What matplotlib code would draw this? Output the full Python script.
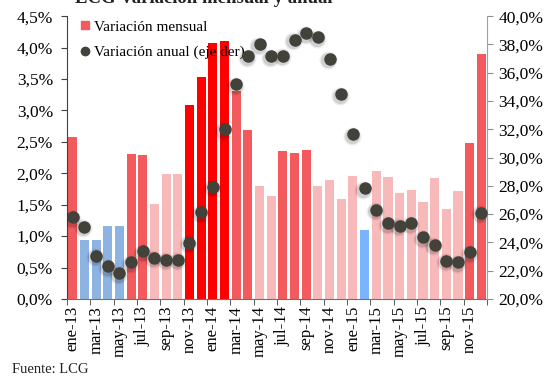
import matplotlib
matplotlib.use("Agg")
import matplotlib.pyplot as plt
from matplotlib.lines import Line2D
from matplotlib.ticker import FuncFormatter
import numpy as np

meses = ["ene", "feb", "mar", "abr", "may", "jun",
         "jul", "ago", "sep", "oct", "nov", "dic"]
etiquetas = [f"{m}-{a}" for a in ("13", "14", "15") for m in meses]

# variacion mensual (%), eje izquierdo
mensual = [2.57, 0.93, 0.94, 1.16, 1.16, 2.31, 2.29, 1.51, 1.99, 1.99, 3.08, 3.53,
           4.07, 4.10, 3.31, 2.69, 1.80, 1.64, 2.36, 2.32, 2.37, 1.80, 1.89, 1.59,
           1.96, 1.10, 2.04, 1.94, 1.69, 1.73, 1.54, 1.92, 1.43, 1.72, 2.48, 3.89]

# variacion anual (%), eje derecho
anual = [25.78, 25.12, 23.07, 22.30, 21.81, 22.58, 23.36, 22.89, 22.75, 22.75, 23.95, 26.14,
         27.94, 31.99, 35.18, 37.16, 38.00, 37.16, 37.21, 38.33, 38.80, 38.52, 36.97, 34.46,
         31.64, 27.83, 26.30, 25.36, 25.17, 25.36, 24.37, 23.81, 22.70, 22.58, 23.31, 26.11]

# tono de cada barra
tono = ["m", "b", "b", "b", "b", "m", "m", "l", "l", "l", "r", "r",
        "r", "r", "m", "m", "l", "l", "m", "m", "m", "l", "l", "l",
        "l", "c", "l", "l", "l", "l", "l", "l", "l", "l", "m", "m"]

paleta = {"m": "#F25A5D", "r": "#FF0000", "l": "#F8B9BA",
          "b": "#8DB3E2", "c": "#7AB4FF"}
DOT = "#42423A"
SERIF = ["Liberation Serif", "DejaVu Serif"]

plt.rcParams["font.family"] = SERIF

fig = plt.figure(figsize=(5.53, 3.76), dpi=100)
ax = fig.add_axes([0.121, 0.205, 0.760, 0.752])
x = np.arange(len(mensual))
ax.bar(x, mensual, width=0.78, color=[paleta[t] for t in tono], zorder=2)
ax.set_xlim(-0.5, len(mensual) - 0.5)
ax.set_ylim(0, 4.5)
ax.set_yticks(np.arange(0, 4.51, 0.5))
ax.yaxis.set_major_formatter(FuncFormatter(lambda v, p: f"{v:.1f}%".replace(".", ",")))

ax.set_xticks(x[::2])
ax.set_xticklabels(etiquetas[::2], rotation=90)
ax.set_xticks(np.arange(-0.5, len(mensual), 2), minor=True)
ax.tick_params(axis="x", which="major", length=0, labelsize=12, pad=5)
ax.tick_params(axis="x", which="minor", length=4, direction="out", color="#404040")
ax.tick_params(axis="y", length=4, labelsize=12.5, pad=6, color="#404040")

for s in ("top", "right"):
    ax.spines[s].set_visible(False)
ax.spines["left"].set_color("#404040")
ax.spines["bottom"].set_color("#707070")

ax2 = ax.twinx()
ax2.set_ylim(20, 40)
ax2.set_yticks(np.arange(20, 40.1, 2))
ax2.yaxis.set_major_formatter(FuncFormatter(lambda v, p: f"{v:.1f}%".replace(".", ",")))
ax2.tick_params(axis="y", length=4, labelsize=12.5, pad=4, color="#909090")
for s in ("top", "left", "bottom"):
    ax2.spines[s].set_visible(False)
ax2.spines["right"].set_color("#a0a0a0")

# sombra difusa de los puntos
for ms, al in ((13, 0.07), (11, 0.12)):
    ax2.plot(x - 0.1, np.array(anual) - 0.1, "o", ms=ms, color="#000000",
             alpha=al, mec="none", zorder=2)
ax2.plot(x, anual, "o", ms=9, color=DOT, mec="none", zorder=3)

handles = [Line2D([], [], marker="s", ls="none", color=paleta["m"], ms=6),
           Line2D([], [], marker="o", ls="none", color=DOT, ms=6)]
ax.legend(handles, ["Variación mensual", "Variación anual (eje der)"],
          loc="upper left", bbox_to_anchor=(0.0, 1.035), frameon=False,
          fontsize=11, handlelength=0.6, handletextpad=0.3, labelspacing=0.75)

fig.text(0.135, 0.991, "LCG Variación mensual y anual", fontsize=13.5,
         fontweight="bold", va="baseline", ha="left", color="#222222")
fig.text(0.022, 0.008, "Fuente: LCG", fontsize=10.5, color="#222222")

fig.savefig("out.png", dpi=100)
